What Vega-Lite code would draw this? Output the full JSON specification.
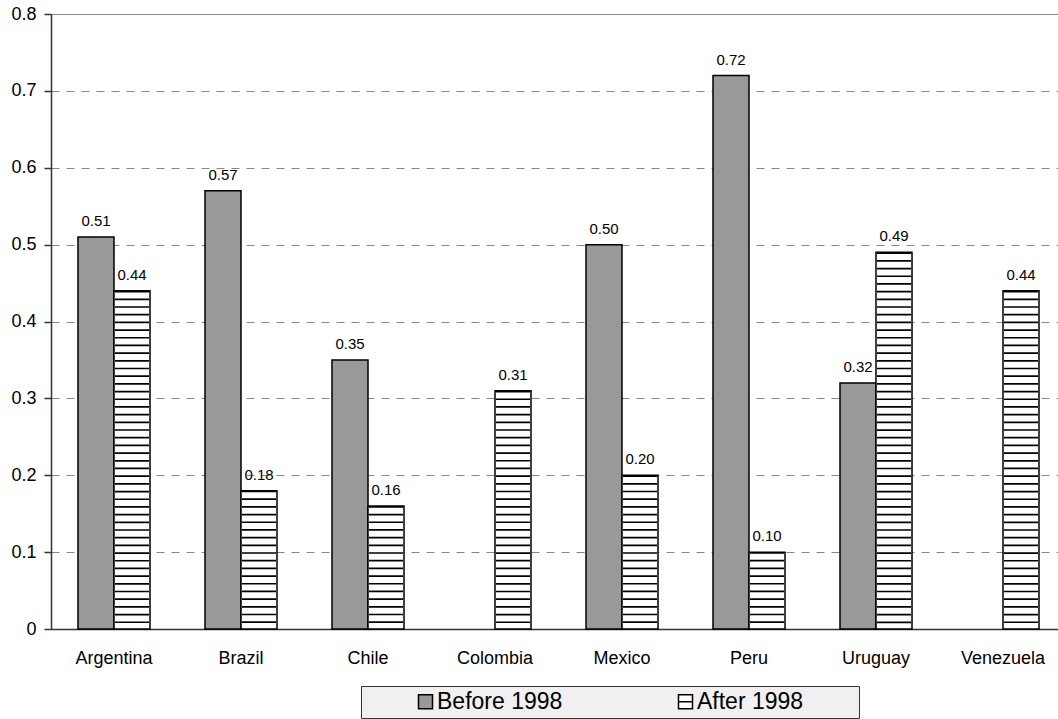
{
  "$schema": "https://vega.github.io/schema/vega-lite/v6.json",
  "width": 1007,
  "height": 615,
  "autosize": {"type": "none"},
  "padding": {"left": 51, "top": 14, "right": 0, "bottom": 90},
  "background": "white",
  "config": {
    "view": {"stroke": null},
    "font": "Liberation Sans",
    "axis": {"labelFont": "Liberation Sans", "labelColor": "black", "labelFontSize": 18, "domainColor": "#333333", "domainWidth": 1.5},
    "legend": {"labelFont": "Liberation Sans", "labelColor": "black"}
  },
  "data": {
    "values": [
      {"country": "Argentina", "period": "Before 1998", "value": 0.51},
      {"country": "Argentina", "period": "After 1998", "value": 0.44},
      {"country": "Brazil", "period": "Before 1998", "value": 0.57},
      {"country": "Brazil", "period": "After 1998", "value": 0.18},
      {"country": "Chile", "period": "Before 1998", "value": 0.35},
      {"country": "Chile", "period": "After 1998", "value": 0.16},
      {"country": "Colombia", "period": "After 1998", "value": 0.31},
      {"country": "Mexico", "period": "Before 1998", "value": 0.50},
      {"country": "Mexico", "period": "After 1998", "value": 0.20},
      {"country": "Peru", "period": "Before 1998", "value": 0.72},
      {"country": "Peru", "period": "After 1998", "value": 0.10},
      {"country": "Uruguay", "period": "Before 1998", "value": 0.32},
      {"country": "Uruguay", "period": "After 1998", "value": 0.49},
      {"country": "Venezuela", "period": "After 1998", "value": 0.44}
    ]
  },
  "encoding": {
    "x": {
      "field": "country", "type": "nominal", "sort": null, "title": null,
      "scale": {"paddingInner": 0.433, "paddingOuter": 0.181, "align": 0.587},
      "axis": {"ticks": false, "tickSize": 0, "labelPadding": 20, "labelAngle": 0, "grid": false}
    },
    "xOffset": {
      "field": "period", "type": "nominal", "sort": ["Before 1998", "After 1998"],
      "scale": {"paddingInner": 0, "paddingOuter": 0}
    },
    "y": {
      "field": "value", "type": "quantitative", "title": null,
      "scale": {"domain": [0, 0.8], "nice": false},
      "axis": {
        "values": [0, 0.1, 0.2, 0.3, 0.4, 0.5, 0.6, 0.7, 0.8],
        "labelExpr": "datum.value === 0 ? '0' : format(datum.value, '.1f')",
        "tickSize": 7, "tickColor": "#333333", "tickWidth": 1.5, "labelPadding": 8,
        "grid": true, "gridColor": "#888888", "gridWidth": 1,
        "gridDash": {"condition": {"test": "datum.value >= 0.79", "value": []}, "value": [8, 7]}
      }
    }
  },
  "layer": [
    {
      "mark": {"type": "bar", "stroke": "black", "strokeWidth": 1.5},
      "encoding": {
        "color": {
          "field": "period", "type": "nominal",
          "scale": {"domain": ["Before 1998", "After 1998"], "range": ["#999999", "#ffffff"]},
          "legend": {
            "title": null, "orient": "none", "legendX": 310, "legendY": 672,
            "direction": "horizontal", "fillColor": "#f0f0f0", "strokeColor": "#333333",
            "padding": 4, "labelFontSize": 23, "labelLimit": 300, "symbolSize": 196, "symbolType": "square",
            "symbolStrokeColor": "black", "symbolStrokeWidth": 1.5,
            "symbolOffset": 49, "labelOffset": 0, "columnPadding": 62,
            "labelExpr": "datum.label === 'After 1998' ? datum.label + '\u00a0\u00a0\u00a0\u00a0\u00a0\u00a0\u00a0\u00a0\u200b' : datum.label",
            "encode": {
              "symbols": {"update": {"shape": {"signal": "datum.value === 'After 1998' ? 'M-1,-1H1V1H-1ZM-1,0H1' : 'square'"}}}
            }
          }
        }
      }
    },
    {
      "transform": [{"filter": "datum.period === 'After 1998'"}],
      "mark": {"type": "rule", "strokeWidth": 34, "strokeDash": [1.7, 5.99], "color": "black"},
      "encoding": {"y2": {"datum": 0}}
    },
    {
      "mark": {"type": "text", "baseline": "alphabetic", "dy": -11, "fontSize": 15, "font": "Liberation Sans", "color": "black"},
      "encoding": {"text": {"field": "value", "type": "quantitative", "format": ".2f"}}
    }
  ]
}
